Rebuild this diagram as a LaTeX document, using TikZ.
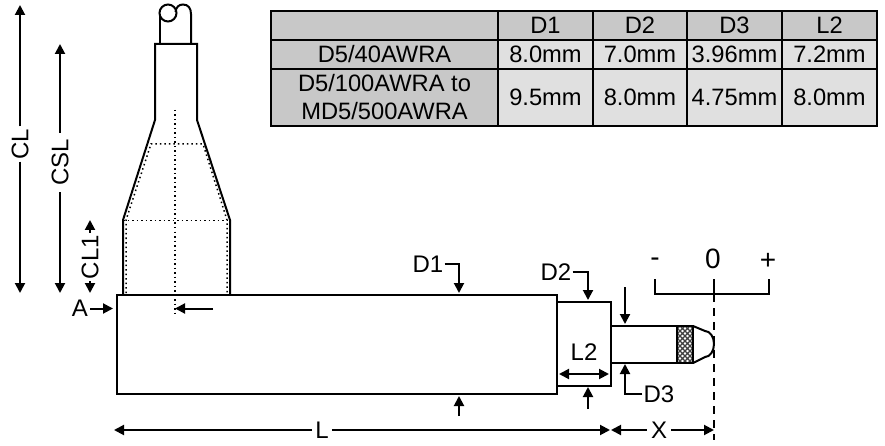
\documentclass[tikz,border=0pt]{standalone}
\usepackage{fontspec}
\setmainfont{Liberation Sans}
\usetikzlibrary{arrows.meta,patterns,positioning}
\definecolor{headgray}{HTML}{C8C8C8}
\definecolor{cellgray}{HTML}{E0E0E0}
\pgfdeclarepatternformonly{knurl}{\pgfqpoint{-1pt}{-1pt}}{\pgfqpoint{6pt}{6pt}}{\pgfqpoint{5pt}{5pt}}{
  \pgfsetlinewidth{1.3pt}
  \pgfpathmoveto{\pgfpointorigin}\pgfpathlineto{\pgfqpoint{5pt}{5pt}}
  \pgfpathmoveto{\pgfqpoint{0pt}{5pt}}\pgfpathlineto{\pgfqpoint{5pt}{0pt}}
  \pgfusepath{stroke}}
\tikzset{
  >={Triangle[length=10pt,width=10pt]},
  part/.style={line width=2pt},
  hidden/.style={line width=1.5pt, dash pattern=on 1.5pt off 3pt},
  dim/.style={line width=2pt},
  dimlabel/.style={font=\fontsize{24}{26}\selectfont, inner sep=3pt},
  scalelabel/.style={font=\fontsize{28}{30}\selectfont, inner sep=0pt},
  headcell/.style={rectangle, draw, line width=2pt, fill=headgray, outer sep=0pt, inner sep=0pt, align=center, font=\fontsize{23.7}{28}\selectfont},
  datacell/.style={headcell, fill=cellgray}
}
\begin{document}
\begin{tikzpicture}[x=1pt,y=-1pt]
    \useasboundingbox (0,0) rectangle (885,446);
    % table
    \node(corner) [headcell, minimum width=227pt, minimum height=29pt, anchor=north west] at (271,11) {};
    \node(hone) [headcell, minimum width=95pt, minimum height=29pt, right=0pt of corner] {D1};
    \node(htwo) [headcell, minimum width=94pt, minimum height=29pt, right=0pt of hone] {D2};
    \node(hthree) [headcell, minimum width=95pt, minimum height=29pt, right=0pt of htwo] {D3};
    \node(hfour) [headcell, minimum width=95pt, minimum height=29pt, right=0pt of hthree] {L2};
    \node(rowa) [headcell, minimum width=227pt, minimum height=29pt, below=0pt of corner] {D5/40AWRA};
    \node(aone) [datacell, minimum width=95pt, minimum height=29pt, right=0pt of rowa] {8.0mm};
    \node(atwo) [datacell, minimum width=94pt, minimum height=29pt, right=0pt of aone] {7.0mm};
    \node(athree) [datacell, minimum width=95pt, minimum height=29pt, right=0pt of atwo] {3.96mm};
    \node(afour) [datacell, minimum width=95pt, minimum height=29pt, right=0pt of athree] {7.2mm};
    \node(rowb) [headcell, minimum width=227pt, minimum height=57pt, below=0pt of rowa] {D5/100AWRA to\\MD5/500AWRA};
    \node(bone) [datacell, minimum width=95pt, minimum height=57pt, right=0pt of rowb] {9.5mm};
    \node(btwo) [datacell, minimum width=94pt, minimum height=57pt, right=0pt of bone] {8.0mm};
    \node(bthree) [datacell, minimum width=95pt, minimum height=57pt, right=0pt of btwo] {4.75mm};
    \node(bfour) [datacell, minimum width=95pt, minimum height=57pt, right=0pt of bthree] {8.0mm};
    % body
    \draw[part] (117,295) rectangle (557,394);
    \draw[part] (557,302) rectangle (611,386);
    \draw[part] (611,326) rectangle (677,363);
    \draw[part, pattern=knurl, pattern color=black!75] (677,326) rectangle (693,363);
    \draw[part] (693,326) -- (705,331) arc[start angle=-90, end angle=90, x radius=9, y radius=13] -- (693,363);
    % connector
    \draw[part] (160,44) -- (160,14);
    \draw[part] (168,13) circle[radius=8.5];
    \draw[part] (175.5,12) .. controls (176,7) and (179,4.5) .. (183,4.5) .. controls (188,4.5) and (191,8) .. (191,14) -- (191,44);
    \draw[part] (123,295) -- (123,220) -- (155,120) -- (155,44) -- (197,44) -- (197,120) -- (230,220) -- (230,295);
    \draw[line width=2.4pt] (123,295) -- (230,295);
    \draw[hidden] (175,110) -- (175,316);
    \draw[hidden] (126,293) -- (126,220) -- (151,144) -- (203,144) -- (227,220) -- (227,293);
    \draw[hidden] (123,220.5) -- (230,220.5);
    % lengths
    \node(cl) [dimlabel, rotate=90, inner sep=2pt] at (20,144) {CL};
    \coordinate(cltop) at (20,5);
    \coordinate(clbot) at (20,293);
    \draw[dim, ->] (cl) -- (cltop);
    \draw[dim, ->] (cl) -- (clbot);
    \node(csl) [dimlabel, rotate=90, inner sep=6pt] at (60,162.5) {CSL};
    \coordinate(csltop) at (60,44);
    \coordinate(cslbot) at (60,293);
    \draw[dim, ->] (csl) -- (csltop);
    \draw[dim, ->] (csl) -- (cslbot);
    \node(clone) [dimlabel, rotate=90, inner sep=2pt] at (90,257) {CL1};
    \coordinate(clonetop) at (90,220);
    \coordinate(clonebot) at (90,293);
    \draw[dim, ->] (clone) -- (clonetop);
    \draw[dim, ->] (clone) -- (clonebot);
    \node(a) [dimlabel, inner sep=2pt] at (80,308.5) {A};
    \coordinate(aref) at (113,308.5);
    \draw[dim, ->] (a) -- (aref);
    \coordinate(bstart) at (213,308.5);
    \coordinate(bend) at (175,308.5);
    \draw[dim, ->] (bstart) -- (bend);
    \node(l) [dimlabel] at (322,430) {L};
    \coordinate(lleft) at (114,430);
    \coordinate(lright) at (610,430);
    \draw[dim, ->] (l) -- (lleft);
    \draw[dim, ->] (l) -- (lright);
    \node(x) [dimlabel, inner sep=4pt] at (659,430) {X};
    \coordinate(xleft) at (611,430);
    \coordinate(xright) at (714,430);
    \draw[dim, ->] (x) -- (xleft);
    \draw[dim, ->] (x) -- (xright);
    % diameters
    \node(done) [dimlabel, inner sep=1pt] at (428,264) {D1};
    \coordinate(donetop) at (459,293);
    \coordinate(donebot) at (459,396);
    \coordinate(donestart) at (459,416);
    \draw[dim, ->] (done) -| (donetop);
    \draw[dim, ->] (donestart) -- (donebot);
    \node(dtwo) [dimlabel, inner sep=1pt] at (556,272) {D2};
    \coordinate(dtwotop) at (588,300);
    \coordinate(dtwobot) at (588,387);
    \coordinate(dtwostart) at (588,409);
    \draw[dim, ->] (dtwo) -| (dtwotop);
    \draw[dim, ->] (dtwostart) -- (dtwobot);
    \node(dthree) [dimlabel, inner sep=1pt] at (659,394) {D3};
    \coordinate(dthreebot) at (625,364);
    \coordinate(dthreetop) at (625,324);
    \coordinate(dthreestart) at (625,287);
    \draw[dim, ->] (dthree) -| (dthreebot);
    \draw[dim, ->] (dthreestart) -- (dthreetop);
    \node(ltwo) [dimlabel, inner sep=0pt] at (584,352) {L2};
    \coordinate(ltwoleft) at (559,374);
    \coordinate(ltworight) at (609,374);
    \draw[dim, <->] (ltwoleft) -- (ltworight);
    % scale
    \node(minus) [scalelabel] at (655,262) {-};
    \node(zero) [scalelabel] at (713,259) {0};
    \node(plus) [scalelabel] at (768,261) {+};
    \coordinate(scaleleft) at (655,279);
    \coordinate(scalemid) at (714,279);
    \coordinate(scaleright) at (769,279);
    \coordinate(scalezero) at (714,294);
    \coordinate(scaleend) at (714,440);
    \draw[dim] (scaleleft) |- (scalezero) -| (scaleright);
    \draw[dim] (scalemid) -- (scalezero);
    \draw[dim, dash pattern=on 8pt off 6pt] (scalezero) -- (scaleend);
\end{tikzpicture}
\end{document}
